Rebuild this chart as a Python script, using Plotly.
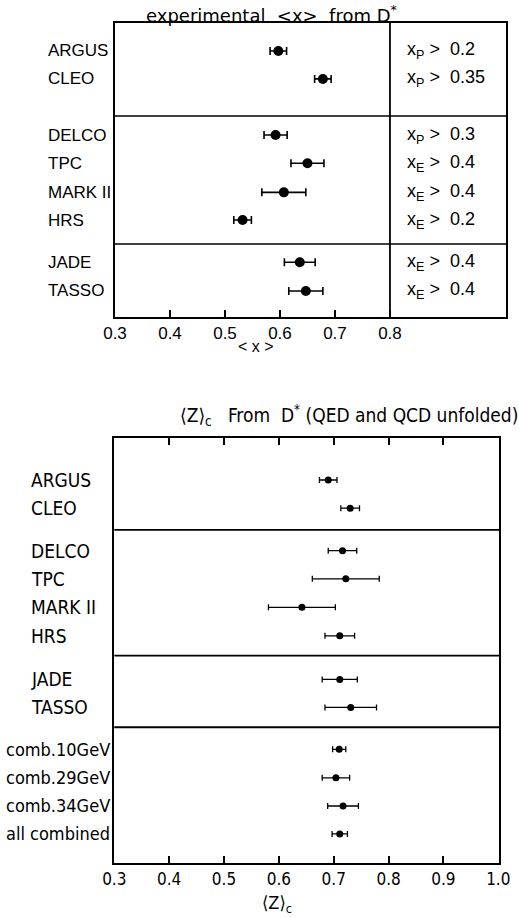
import plotly.graph_objects as go

W, H = 519, 918

# ---------------- data ----------------
top_labels = ["ARGUS", "CLEO", "DELCO", "TPC", "MARK II", "HRS", "JADE", "TASSO"]
top_x = [0.597, 0.678, 0.592, 0.650, 0.607, 0.532, 0.636, 0.647]
top_err = [0.015, 0.015, 0.021, 0.030, 0.040, 0.016, 0.028, 0.031]
top_cuts = ["x<sub>P</sub> >\u00a0 0.2", "x<sub>P</sub> >\u00a0 0.35", "x<sub>P</sub> >\u00a0 0.3",
            "x<sub>E</sub> >\u00a0 0.4", "x<sub>E</sub> >\u00a0 0.4", "x<sub>E</sub> >\u00a0 0.2",
            "x<sub>E</sub> >\u00a0 0.4", "x<sub>E</sub> >\u00a0 0.4"]
top_ticks = [0.3, 0.4, 0.5, 0.6, 0.7, 0.8]

bot_labels = ["ARGUS", "CLEO", "DELCO", "TPC", "MARK II", "HRS", "JADE", "TASSO",
              "comb.10GeV", "comb.29GeV", "comb.34GeV", "all combined"]
bot_z = [0.690, 0.730, 0.716, 0.722, 0.642, 0.711, 0.711, 0.731, 0.710, 0.704, 0.717, 0.711]
bot_err = [0.016, 0.017, 0.026, 0.061, 0.061, 0.027, 0.032, 0.047, 0.012, 0.025, 0.028, 0.014]
bot_ticks = [0.3, 0.4, 0.5, 0.6, 0.7, 0.8, 0.9, 1.0]

# ---------------- layout helpers (row positions / separators) ----------------
top_rows = [0, 0.98, 2.95, 3.94, 4.96, 5.93, 7.41, 8.42]
top_seps = [2.28, 6.77]
bot_rows = [0, 0.99, 2.48, 3.47, 4.47, 5.47, 7.0, 7.98, 9.45, 10.45, 11.44, 12.42]
bot_seps = [1.754, 6.165, 8.677]
bot_is_comb = [False] * 8 + [True] * 4

F1 = "Liberation Sans, Arial, sans-serif"
F3 = "DejaVu Sans, sans-serif"
F2 = "DejaVu Sans Condensed, DejaVu Sans, sans-serif"

fig = go.Figure()

fig.add_trace(go.Scatter(
    x=top_x, y=top_rows, mode="markers",
    marker=dict(color="black", size=10),
    error_x=dict(type="data", array=top_err, color="black", thickness=1.6, width=4),
    xaxis="x", yaxis="y", showlegend=False))

fig.add_trace(go.Scatter(
    x=bot_z, y=bot_rows, mode="markers",
    marker=dict(color="black", size=7),
    error_x=dict(type="data", array=bot_err, color="black", thickness=1.3, width=3),
    xaxis="x2", yaxis="y2", showlegend=False))


def txt(text, x, y, xref="paper", yref="paper", xanchor="center", family=F1, size=16):
    return dict(text=text, x=x, y=y, xref=xref, yref=yref, xanchor=xanchor,
                yanchor="middle", showarrow=False, borderpad=0,
                font=dict(family=family, size=size, color="black"))


ann = []
for lab, r in zip(top_labels, top_rows):
    ann.append(txt(lab, 47 / W, r, yref="y", xanchor="left", size=17))
for cut, r in zip(top_cuts, top_rows):
    ann.append(txt(cut, 0.829, r, xref="x", yref="y", xanchor="left", size=18))
for lab, r, comb in zip(bot_labels, bot_rows, bot_is_comb):
    if comb:
        ann.append(txt(lab, 111 / W, r, yref="y2", xanchor="right", family=F2, size=18))
    else:
        ann.append(txt(lab, 30 / W, r, yref="y2", xanchor="left", family=F2, size=19))

ann.append(txt("experimental\u00a0 &lt;x&gt;\u00a0 from D<sup>*</sup>", 271 / W, 1 - 14 / H,
               family=F3, size=18))
ann.append(txt("&lt; x &gt;", 256 / W, 1 - 346 / H, size=16))
ann.append(txt("⟨Z⟩<sub>c</sub>\u00a0\u00a0 From\u00a0 D<sup>*</sup> (QED and QCD unfolded)",
               349 / W, 1 - 415 / H, family=F2, size=19))
ann.append(txt("⟨Z⟩<sub>c</sub>", 277 / W, 1 - 904 / H, family=F2, size=18))

shapes = []
for s in top_seps:
    shapes.append(dict(type="line", xref="x domain", yref="y", x0=0, x1=1, y0=s, y1=s,
                       line=dict(color="black", width=1.5)))
shapes.append(dict(type="line", xref="x", yref="y domain", x0=0.8, x1=0.8, y0=0, y1=1,
                   line=dict(color="black", width=1.8)))
for s in bot_seps:
    shapes.append(dict(type="line", xref="x2 domain", yref="y2", x0=0, x1=1, y0=s, y1=s,
                       line=dict(color="black", width=1.8)))

fig.update_layout(
    template="none",
    width=W, height=H, margin=dict(l=0, r=0, t=0, b=0, pad=0, autoexpand=False),
    paper_bgcolor="white", plot_bgcolor="white",
    annotations=ann, shapes=shapes,
    xaxis=dict(domain=[115 / W, 506 / W], range=[0.3, 1.011], anchor="y", automargin=False,
               tickvals=top_ticks, ticktext=[f"{t:.1f}" for t in top_ticks],
               ticks="inside", ticklen=7, tickwidth=1.5, tickcolor="black",
               showline=True, linecolor="black", linewidth=2, mirror=True,
               showgrid=False, zeroline=False,
               tickfont=dict(family=F1, size=17, color="black")),
    yaxis=dict(domain=[1 - 317 / H, 1 - 23 / H], range=[9.333, -0.982], anchor="x",
               automargin=False,
               showline=True, linecolor="black", linewidth=2, mirror=True,
               showticklabels=False, ticks="", showgrid=False, zeroline=False),
    xaxis2=dict(domain=[114.3 / W, 499 / W], range=[0.3, 1.0013], anchor="y2", automargin=False,
                tickvals=bot_ticks, ticktext=[f"{t:.1f}" for t in bot_ticks],
                ticks="inside", ticklen=7, tickwidth=1.5, tickcolor="black",
                showline=True, linecolor="black", linewidth=2, mirror="ticks",
                showgrid=False, zeroline=False,
                tickfont=dict(family=F2, size=17, color="black")),
    yaxis2=dict(domain=[1 - 862.7 / H, 1 - 437.7 / H], range=[13.43, -1.484], anchor="x2",
                automargin=False,
                showline=True, linecolor="black", linewidth=2, mirror=True,
                showticklabels=False, ticks="", showgrid=False, zeroline=False),
)

fig.write_html("out.html")
